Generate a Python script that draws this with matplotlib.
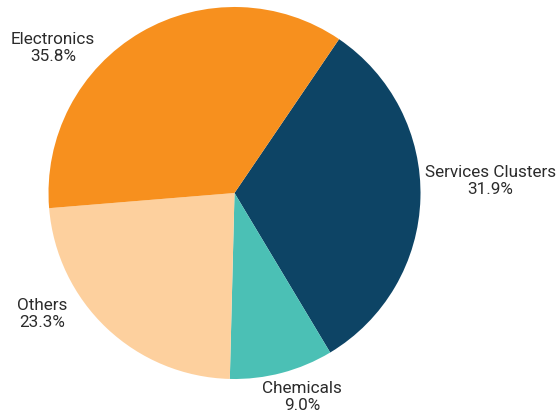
import matplotlib.pyplot as plt

# sector shares (%)
sectors = ['Services Clusters', 'Chemicals', 'Others', 'Electronics']
shares = [31.9, 9.0, 23.3, 35.8]
colors = ['#0d4465', '#4bc0b5', '#fdd09e', '#f7901e']

# label centres in pie units (radius = 1)
label_pos = [(1.376, 0.065), (0.363, -1.097), (-1.035, -0.65), (-0.976, 0.78)]

plt.rcParams['font.family'] = ['Roboto', 'DejaVu Sans']

fig = plt.figure(figsize=(5.6, 4.18), dpi=100)
ax = fig.add_axes([0, 0, 1, 1])

ax.pie(shares, colors=colors, startangle=55.8, counterclock=False,
       radius=1.0, wedgeprops=dict(linewidth=0))

for name, val, (x, y) in zip(sectors, shares, label_pos):
    ax.text(x, y, f'{name}\n{val:.1f}%', ha='center', va='center',
            fontsize=12.3, color='#2b2b2b', linespacing=1.2)

r = 186.0
ax.set_xlim(-234.5 / r, (560 - 234.5) / r)
ax.set_ylim((193 - 418) / r, 193 / r)
ax.set_aspect('auto')
ax.axis('off')

fig.savefig('out.png', dpi=100)
